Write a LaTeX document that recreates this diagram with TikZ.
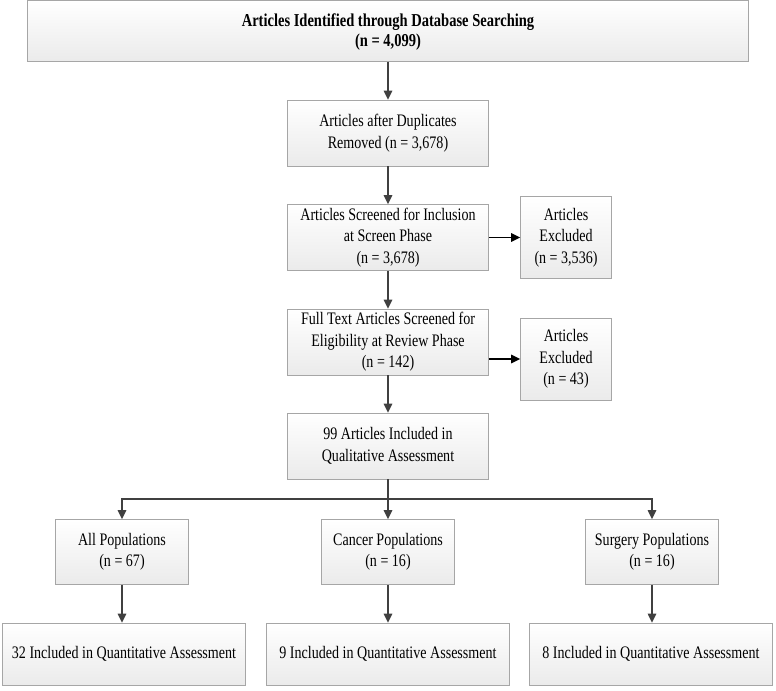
\documentclass[tikz,border=0pt]{standalone}
\usepackage{fontspec}
\setmainfont{Liberation Serif}[FakeStretch=0.8]
\usetikzlibrary{arrows.meta,shadows}

\begin{document}
\begin{tikzpicture}[node distance=3.12cm, >={Triangle[length=2.7mm,width=2.5mm]},
  block/.style={rectangle, draw=gray!70, line width=0.6pt, top color=white, bottom color=gray!16, drop shadow={shadow xshift=0.7pt, shadow yshift=-0.7pt, opacity=0.25}, align=center, font=\fontsize{15}{18.3}\selectfont, inner sep=0pt},
  midbox/.style={block, minimum width=6.03cm, minimum height=1.98cm},
  exclbox/.style={block, minimum width=2.73cm, minimum height=2.46cm},
  popbox/.style={block, minimum width=3.99cm, minimum height=1.95cm},
  quantbox/.style={block, minimum width=7.29cm, minimum height=1.86cm},
  flow/.style={->, line width=1.5pt, draw=black!75},
  side/.style={->, line width=1.5pt, draw=black}]
  \useasboundingbox (0,0) rectangle (23.28,-20.73);
  {
  \node[block, minimum width=21.63cm, minimum height=1.83cm, font=\fontsize{15.5}{17.5}\selectfont\bfseries] (ident) at (11.64,-0.93) {\rule{0pt}{13pt}Articles Identified through Database Searching\\(n = 4,099)};
  \node[midbox, below of=ident, node distance=3.06cm] (dup) {Articles after Duplicates\\Removed (n = 3,678)};
  \node[midbox, below of=dup, node distance=3.135cm] (screen) {Articles Screened for Inclusion\\at Screen Phase\\(n = 3,678)};
  \node[exclbox, right of=screen, node distance=5.34cm] (excl1) {Articles\\Excluded\\(n = 3,536)};
  \node[midbox, below of=screen, node distance=3.135cm] (full) {Full Text Articles Screened for\\Eligibility at Review Phase\\(n = 142)};
  \node[exclbox, right of=full, node distance=5.34cm, yshift=-0.51cm] (excl2) {Articles\\Excluded\\(n = 43)};
  \node[midbox, below of=full] (qual) {99 Articles Included in\\Qualitative Assessment};
  \node[coordinate, below of=qual, node distance=1.59cm] (split) {};
  \node[popbox, below of=qual, node distance=3.18cm] (cancer) {Cancer Populations\\(n = 16)};
  \node[popbox, left of=cancer, node distance=7.98cm] (allpop) {All Populations\\(n = 67)};
  \node[popbox, right of=cancer, node distance=7.92cm] (surgery) {Surgery Populations\\(n = 16)};
  \node[quantbox, below of=cancer, node distance=3.06cm] (quant2) {9 Included in Quantitative Assessment};
  \node[quantbox, left of=quant2, node distance=7.92cm] (quant1) {32 Included in Quantitative Assessment};
  \node[quantbox, right of=quant2, node distance=7.89cm] (quant3) {8 Included in Quantitative Assessment};

  \draw[flow] (ident) -- (dup);
  \draw[flow] (dup) -- (screen);
  \draw[flow] (screen) -- (full);
  \draw[flow] (full) -- (qual);
  \draw[side] (screen) -- (excl1);
  \draw[side] (full.east |- excl2) -- (excl2);
  \draw[line width=1.5pt, draw=black!75] (qual) -- (split);
  \draw[flow] (split) -| (allpop);
  \draw[flow] (split) -- (cancer);
  \draw[flow] (split) -| (surgery);
  \draw[flow] (allpop) -- (allpop |- quant1.north);
  \draw[flow] (cancer) -- (quant2);
  \draw[flow] (surgery) -- (surgery |- quant3.north);
}
\end{tikzpicture}
\end{document}
